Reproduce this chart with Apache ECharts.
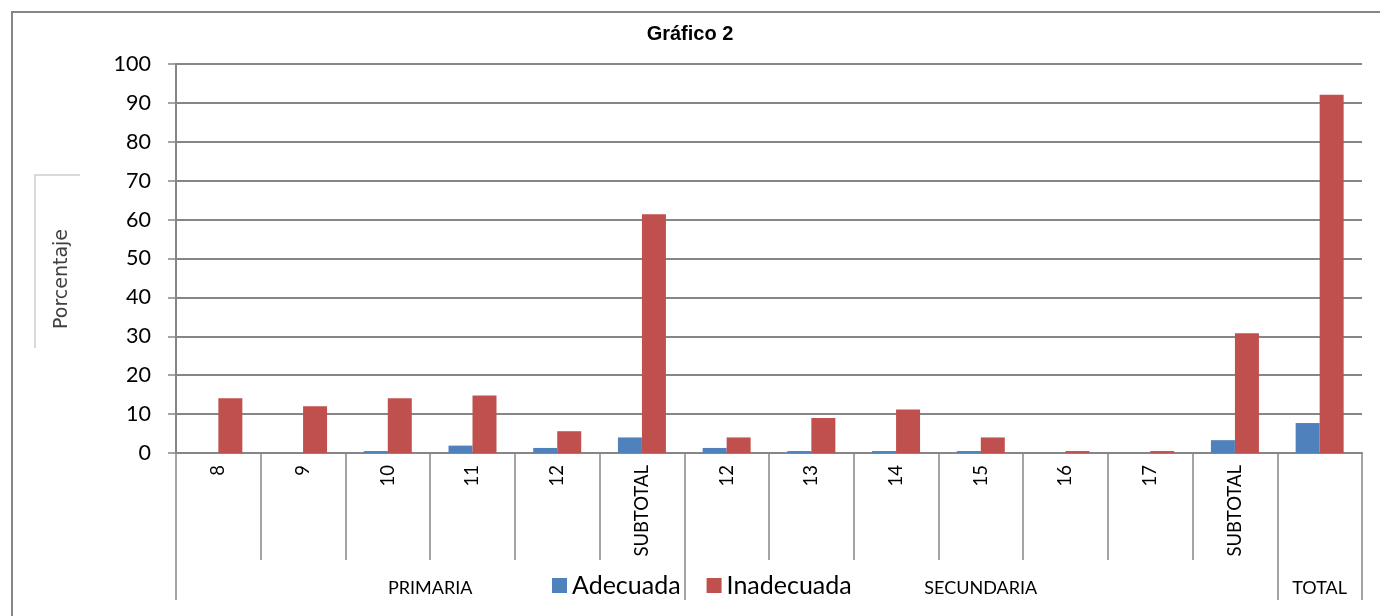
<!DOCTYPE html>
<html>
<head>
<meta charset="utf-8">
<title>Gráfico 2</title>
<script src="https://cdn.jsdelivr.net/npm/echarts@6/dist/echarts.min.js"></script>
<style>
    html, body { margin: 0; padding: 0; background: #fff; }
    #e1 { width: 1380px; height: 616px; }
</style>
</head>
<body>
<div id="e1"></div>
<script>
// datos del grafico
var categorias = ['8', '9', '10', '11', '12', 'SUBTOTAL', '12', '13', '14', '15', '16', '17', 'SUBTOTAL', ''];
var grupos = [
    {nombre: 'PRIMARIA', desde: 0, hasta: 5},
    {nombre: 'SECUNDARIA', desde: 6, hasta: 12},
    {nombre: 'TOTAL', desde: 13, hasta: 13}
];
var adecuada = [0, 0, 0.5, 1.9, 1.3, 4.0, 1.3, 0.5, 0.5, 0.5, 0, 0, 3.3, 7.7];
var inadecuada = [14.1, 12.0, 14.1, 14.8, 5.6, 61.4, 4.0, 9.0, 11.2, 4.0, 0.5, 0.5, 30.8, 92.1];
var yTicks = {min: 0, max: 100, interval: 10};

var fuente = 'Lato, "Open Sans", sans-serif';
var gris = '#868686';

var e1 = echarts.init(document.getElementById('e1'));

// limites de los grupos (para las lineas largas del eje)
var limites = [];
for (var i = 0; i < grupos.length; i++) {
    limites.push(grupos[i].desde);
}

var option1 = {
    animation: false,
    color: ['#4F81BD', '#C0504D'],
    title: {
        text: 'Gráfico 2',
        left: 'center',
        top: 19,
        textStyle: {
            fontFamily: '"Liberation Sans", Arial, sans-serif',
            fontSize: 20,
            fontWeight: 'bold',
            color: '#000'
        }
    },
    legend: {
        data: ['Adecuada', 'Inadecuada'],
        top: 568,
        left: 547,
        itemWidth: 15,
        itemHeight: 15,
        itemGap: 26,
        icon: 'rect',
        textStyle: {
            fontFamily: fuente,
            fontSize: 25,
            color: '#000'
        }
    },
    grid: {
        left: 176,
        right: 18,
        top: 64,
        bottom: 163
    },
    xAxis: [{
        type: 'category',
        data: categorias,
        position: 'bottom',
        axisLine: {lineStyle: {color: gris, width: 2}},
        axisTick: {show: true, length: 107, lineStyle: {color: gris, width: 1.5}},
        axisLabel: {
            rotate: 90,
            margin: 12,
            interval: 0,
            fontFamily: fuente,
            fontSize: 18.5,
            color: '#000'
        }
    }, {
        type: 'category',
        data: categorias,
        position: 'bottom',
        axisLine: {show: false},
        axisLabel: {show: false},
        axisTick: {
            show: true,
            length: 147,
            interval: function (index) {
                return limites.indexOf(index) >= 0;
            },
            lineStyle: {color: gris, width: 1.5}
        }
    }],
    yAxis: {
        type: 'value',
        min: yTicks.min,
        max: yTicks.max,
        interval: yTicks.interval,
        axisLine: {show: true, lineStyle: {color: gris, width: 2}},
        axisTick: {show: true, length: 8, lineStyle: {color: gris, width: 1.5}},
        axisLabel: {
            margin: 25,
            fontFamily: fuente,
            fontSize: 21.5,
            color: '#000'
        },
        splitLine: {lineStyle: {color: gris, width: 2}}
    },
    series: [{
        name: 'Adecuada',
        type: 'bar',
        barWidth: 24,
        barGap: '0%',
        data: adecuada
    }, {
        name: 'Inadecuada',
        type: 'bar',
        barWidth: 24,
        barGap: '0%',
        data: inadecuada
    }]
};
e1.setOption(option1);

// marco, titulo del eje y etiquetas de grupo
var graficos = [{
    type: 'rect',
    shape: {x: 12, y: 12, width: 1400, height: 700},
    style: {fill: null, stroke: gris, lineWidth: 2},
    silent: true
}, {
    type: 'polyline',
    shape: {points: [[80, 175], [35, 175], [35, 348]]},
    style: {fill: null, stroke: '#d9d9d9', lineWidth: 2},
    silent: true
}, {
    type: 'text',
    x: 62,
    y: 279,
    rotation: Math.PI / 2,
    style: {
        text: 'Porcentaje',
        fontFamily: '"DejaVu Sans", sans-serif',
        fontSize: 19,
        fill: '#404040',
        align: 'center',
        verticalAlign: 'middle'
    },
    silent: true
}];
for (var g = 0; g < grupos.length; g++) {
    var x0 = e1.convertToPixel({xAxisIndex: 0}, grupos[g].desde);
    var x1 = e1.convertToPixel({xAxisIndex: 0}, grupos[g].hasta);
    graficos.push({
        type: 'text',
        x: (x0 + x1) / 2,
        y: 588,
        style: {
            text: grupos[g].nombre,
            fontFamily: fuente,
            fontSize: 18,
            fill: '#000',
            align: 'center',
            verticalAlign: 'middle'
        },
        silent: true
    });
}
e1.setOption({graphic: graficos});

window.onresize = function () {
    e1.resize();
};
</script>
</body>
</html>
